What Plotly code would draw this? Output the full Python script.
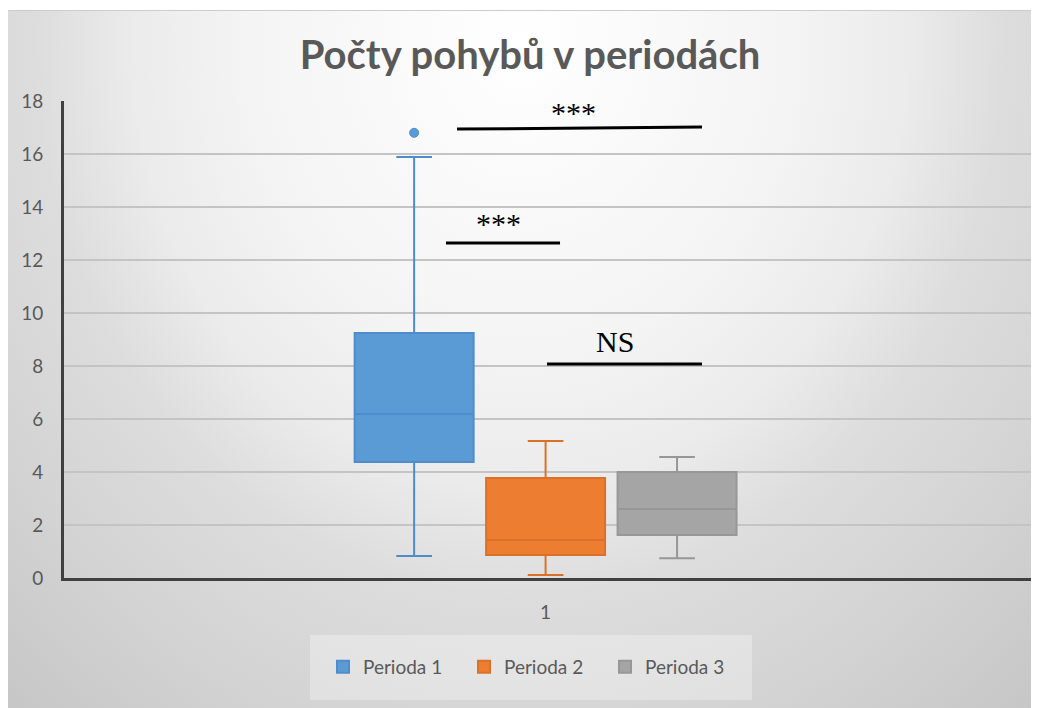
import base64

import plotly.graph_objects as go

# Data
categories = ["1"]
series = ["Perioda 1", "Perioda 2", "Perioda 3"]
q1 = [4.38, 0.87, 1.62]
median = [6.19, 1.43, 2.60]
q3 = [9.25, 3.77, 4.00]
lower_fence = [0.83, 0.11, 0.75]
upper_fence = [15.89, 5.17, 4.57]
outliers = [[16.8], [], []]
y_ticks = [0, 2, 4, 6, 8, 10, 12, 14, 16, 18]

fill_colors = ["#5B9BD5", "#ED7D31", "#A5A5A5"]
line_colors = ["#4F8CCB", "#DB7128", "#979797"]

# significance brackets: label, x0, x1 (paper), y0, y1 (data), label x (paper), label y (data)
brackets = [
    ("***", 0.4056, 0.6584, 16.94, 17.02, 0.5258, 17.55),
    ("***", 0.3942, 0.5119, 12.64, 12.64, 0.4484, 13.36),
    ("NS", 0.4985, 0.6584, 8.08, 8.08, 0.5686, 8.91),
]

# page has an 8px body margin, so the figure is laid out 8px up/left of the picture
W, H = 1031, 700
L, R, T, B = 56, 6, 93, 130
PW, PH = W - L - R, H - T - B
BOT = H - B  # pixel row of the x axis

# radial grey gradient background like the Excel chart area
svg = """<svg xmlns="http://www.w3.org/2000/svg" width="1031" height="698" viewBox="0 0 1031 698" preserveAspectRatio="none">
<defs><radialGradient id="g" gradientUnits="userSpaceOnUse" cx="512" cy="30" r="780"
 gradientTransform="translate(512 30) scale(1 1.15) translate(-512 -30)">
<stop offset="0" stop-color="#ffffff"/>
<stop offset="0.35" stop-color="#f4f4f4"/>
<stop offset="0.5" stop-color="#ebebeb"/>
<stop offset="0.62" stop-color="#dddddd"/>
<stop offset="0.8" stop-color="#d3d3d3"/>
<stop offset="1" stop-color="#c6c6c6"/>
</radialGradient></defs>
<rect x="0" y="0" width="1031" height="698" fill="url(#g)"/>
<line x1="0" y1="0.5" x2="1031" y2="0.5" stroke="#cccccc" stroke-width="1"/>
</svg>"""
bg_src = "data:image/svg+xml;base64," + base64.b64encode(svg.encode()).decode()

fig = go.Figure()

for i, name in enumerate(series):
    extra = {}
    if outliers[i]:
        extra["y"] = [outliers[i]]
    fig.add_trace(
        go.Box(
            name=name,
            x=categories,
            q1=[q1[i]],
            median=[median[i]],
            q3=[q3[i]],
            lowerfence=[lower_fence[i]],
            upperfence=[upper_fence[i]],
            orientation="v",
            boxpoints="outliers",
            pointpos=0,
            jitter=0,
            whiskerwidth=0.3,
            fillcolor=fill_colors[i],
            line=dict(color=line_colors[i], width=2),
            marker=dict(color=fill_colors[i], size=9, line=dict(color=line_colors[i], width=1)),
            hoverinfo="skip",
            **extra,
        )
    )

for label, x0, x1, y0, y1, lx, ly in brackets:
    fig.add_shape(
        type="line", xref="paper", yref="y",
        x0=x0, x1=x1, y0=y0, y1=y1,
        line=dict(color="black", width=3),
    )
    fig.add_annotation(
        text=label, xref="paper", yref="y", x=lx, y=ly,
        showarrow=False, xanchor="center", yanchor="middle",
        font=dict(family="Liberation Serif", size=30, color="black"),
    )

# legend panel
fig.add_shape(
    type="rect", xref="paper", yref="paper", layer="below",
    x0=(302 - L) / PW, x1=(744 - L) / PW,
    y0=(BOT - 692) / PH, y1=(BOT - 627) / PH,
    fillcolor="rgba(255,255,255,0.3)", line=dict(width=0),
)

fig.add_layout_image(
    source=bg_src, xref="paper", yref="paper",
    x=-L / PW, y=(BOT - 2) / PH,
    sizex=W / PW, sizey=(H - 2) / PH,
    xanchor="left", yanchor="top", sizing="stretch", layer="below",
)

fig.update_layout(
    width=W,
    height=H,
    margin=dict(l=L, r=R, t=T, b=B),
    paper_bgcolor="white",
    plot_bgcolor="rgba(0,0,0,0)",
    font=dict(family="Lato", size=19, color="#595959"),
    title=dict(
        text="<b>Počty pohybů v periodách</b>",
        x=522 / W, xanchor="center",
        y=1 - 47 / H, yanchor="middle",
        font=dict(family="Lato", size=40, color="#595959"),
    ),
    boxmode="group",
    boxgap=0.593,
    boxgroupgap=0.095,
    showlegend=True,
    legend=dict(
        orientation="h",
        x=(315 - L) / PW, xanchor="left",
        y=(BOT - 659) / PH, yanchor="middle",
        bgcolor="rgba(0,0,0,0)",
        entrywidth=96,
        entrywidthmode="pixels",
        font=dict(family="Lato", size=19, color="#595959"),
    ),
    hovermode=False,
)

fig.update_xaxes(
    type="category",
    range=[-0.497, 0.503],
    showgrid=False,
    showline=True,
    linecolor="#404040",
    linewidth=3,
    ticks="",
    ticklabelstandoff=15,
    zeroline=False,
)
fig.update_yaxes(
    range=[0, 18],
    tickvals=y_ticks,
    showgrid=True,
    gridcolor="#c4c4c4",
    gridwidth=1.5,
    showline=True,
    linecolor="#404040",
    linewidth=3,
    ticks="",
    ticklabelstandoff=14,
    zeroline=False,
)

fig.write_html("out.html")
